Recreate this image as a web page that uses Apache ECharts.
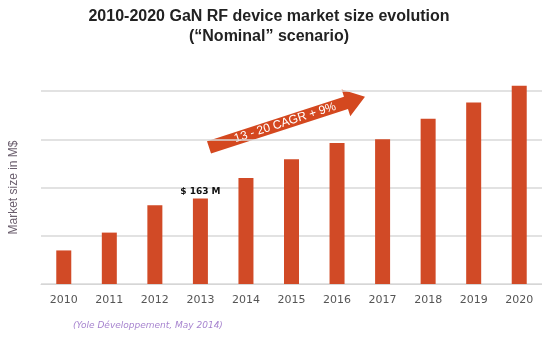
<!DOCTYPE html>
<html>
<head>
<meta charset="utf-8">
<script src="https://cdn.jsdelivr.net/npm/echarts@6/dist/echarts.min.js"></script>
<style>html,body{margin:0;padding:0;background:#fff}#c{width:542px;height:343px}</style>
</head>
<body>
<div id="c"></div>
<script>
var years = ['2010','2011','2012','2013','2014','2015','2016','2017','2018','2019','2020'];
var marketSize = [64, 98, 150, 163, 202, 238, 269, 276, 315, 346, 378];
var labelledYear = '2013';
var titleText = '2010-2020 GaN RF device market size evolution\n(\u201cNominal\u201d scenario)';
var cagrText = '13 - 20 CAGR + 9%';
var sourceText = '(Yole D\u00e9veloppement, May 2014)';
var yAxisName = 'Market size in M$';

var chart = echarts.init(document.getElementById('c'));
var red = '#d14a26';
var seriesData = marketSize.map(function (v, i) {
  if (years[i] === labelledYear) {
    return {value: v, label: {show: true, position: 'top', distance: 2, formatter: '$ {c} M', color: '#111', fontSize: 9, fontFamily: 'DejaVu Sans', fontWeight: 'bold'}};
  }
  return v;
});

chart.setOption({
  animation: false,
  title: {
    text: titleText,
    left: 264, textAlign: 'center', top: 2,
    textStyle: {fontFamily: 'Liberation Sans', fontWeight: 'bold', fontSize: 16, lineHeight: 20, color: '#222'}
  },
  grid: {left: 32, top: 91, bottom: 59, width: 512},
  xAxis: {
    type: 'category', data: years,
    axisLine: {show: true, lineStyle: {color: '#d6d6d6', width: 1}},
    axisTick: {show: false},
    axisLabel: {color: '#555', fontFamily: 'DejaVu Sans', fontSize: 11, margin: 11}
  },
  yAxis: {
    type: 'value', min: 0, max: 368, interval: 92,
    name: yAxisName, nameLocation: 'middle', nameGap: 21,
    nameTextStyle: {color: '#6b5f6e', fontFamily: 'Liberation Sans', fontSize: 12},
    axisLabel: {show: false}, axisLine: {show: false}, axisTick: {show: false},
    splitLine: {lineStyle: {color: '#d9d9d9', width: 1.5}}
  },
  series: [{
    type: 'bar', data: seriesData, barWidth: 15, clip: false,
    itemStyle: {color: red}
  }],
  graphic: [
    {
      type: 'group', x: 287, y: 122, rotation: 18 * Math.PI / 180,
      children: [
        {type: 'polygon', shape: {points: [[-82,-6.5],[62,-6.5],[62,-14],[82,0],[62,14],[62,6.5],[-82,6.5]]}, style: {fill: '#d4481f'}},
        {type: 'text', x: -2, y: 0, style: {text: cagrText, fill: '#fff', fontFamily: 'Liberation Sans', fontSize: 12, align: 'center', verticalAlign: 'middle'}}
      ]
    },
    {
      type: 'text', left: 73, top: 321,
      style: {text: sourceText, fill: '#a784cf', fontFamily: 'DejaVu Sans', fontStyle: 'italic', fontSize: 9}
    }
  ]
});
</script>
</body>
</html>
